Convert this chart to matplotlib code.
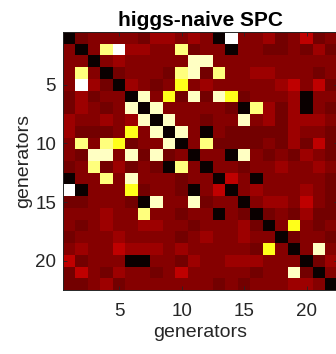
import numpy as np
import matplotlib
matplotlib.use("Agg")
import matplotlib.pyplot as plt

# colour-level codes (hot colormap, 0 = black, 1 = white)
K, M, D, R, B, Y, P, L, W = 0.0, 0.16, 0.185, 0.22, 0.27, 0.77, 0.87, 0.94, 1.0

row_values = [
    [K, M, D, D, D, D, M, R, R, D, R, D, K, W, D, D, R, M, D, B, M, D],
    [D, K, D, P, W, R, R, D, D, P, M, D, D, K, D, D, M, M, D, M, R, M],
    [D, D, K, D, R, D, D, D, D, D, L, L, D, D, D, D, D, D, D, D, D, D],
    [D, P, D, K, M, D, D, D, M, P, L, M, P, D, D, R, R, D, D, D, M, D],
    [D, W, R, M, K, R, D, M, D, Y, D, R, D, D, D, D, D, R, B, D, B, M],
    [M, R, M, D, D, K, L, D, Y, M, L, M, L, Y, M, D, D, D, R, K, D, D],
    [M, R, D, M, D, L, K, L, D, D, D, D, D, M, K, P, R, M, R, K, D, M],
    [R, D, D, R, D, R, L, K, L, D, D, M, D, D, L, D, R, M, R, R, R, D],
    [R, M, M, M, D, Y, D, L, K, L, D, K, D, M, M, M, M, M, R, D, D, M],
    [D, P, D, P, Y, M, D, D, L, K, D, P, M, M, M, M, D, M, R, M, B, M],
    [D, M, L, L, D, L, M, L, M, D, K, D, D, K, L, D, M, D, M, R, D, M],
    [M, D, P, M, R, M, D, M, K, P, D, K, D, D, M, D, D, R, D, D, R, D],
    [K, D, D, P, D, L, D, D, D, M, D, D, K, B, D, K, D, D, D, D, D, M],
    [W, K, D, D, D, Y, M, D, D, M, K, D, B, K, D, R, D, D, D, R, D, M],
    [M, M, D, D, D, M, K, L, D, D, L, M, D, D, K, D, R, R, D, B, D, M],
    [D, D, D, R, D, D, P, D, D, M, D, D, K, D, M, K, M, D, M, R, M, M],
    [D, M, D, R, D, D, R, R, D, D, M, D, D, D, R, M, K, D, Y, D, M, D],
    [M, D, D, D, R, D, D, D, D, M, D, R, D, D, R, D, D, K, M, D, D, M],
    [D, R, D, D, B, R, R, R, D, R, D, D, D, D, D, M, Y, D, K, D, L, D],
    [B, M, D, D, D, K, K, D, D, M, R, D, D, R, R, R, D, D, D, K, M, R],
    [M, B, D, M, R, D, D, M, D, B, D, D, D, D, D, M, D, D, L, M, K, D],
    [M, M, D, R, M, D, D, D, D, D, D, D, M, D, M, D, D, D, R, R, D, K],
]
tick_values = [5, 10, 15, 20]
title_text = "higgs-naive SPC"
x_label = "generators"
y_label = "generators"

plt.rcParams['font.family'] = ['Liberation Sans', 'DejaVu Sans']

data = np.array(row_values)
n = data.shape[0]

fig = plt.figure(figsize=(3.36, 3.54), dpi=100)
ax = fig.add_axes([63 / 336, (354 - 290) / 354, (338 - 63) / 336, (290 - 32) / 354])
ax.imshow(data, cmap='hot', vmin=0, vmax=1, aspect='auto', interpolation='nearest',
          extent=(0.5, n + 0.5, n + 0.5, 0.5))
ax.set_xlim(0.5, n + 0.5)
ax.set_ylim(n + 0.5, 0.5)
ax.set_xticks(tick_values)
ax.set_yticks(tick_values)
tc = '#262626'
ax.tick_params(direction='in', length=3, width=0.6, colors=tc, labelsize=13.5,
               top=True, right=True, pad=5)
ax.tick_params(axis='x', pad=9)
for s in ax.spines.values():
    s.set_color(tc)
    s.set_linewidth(0.7)
ax.set_title(title_text, fontsize=15, fontweight='bold', color='black', pad=4)
ax.set_xlabel(x_label, fontsize=14, color=tc, labelpad=3)
ax.set_ylabel(y_label, fontsize=14, color=tc, labelpad=2)

fig.savefig('out.png', dpi=100)
